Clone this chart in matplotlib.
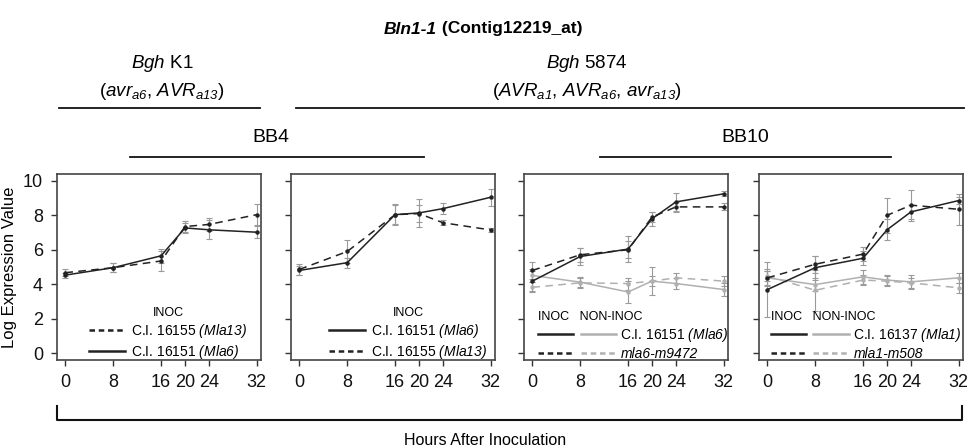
import matplotlib
matplotlib.use("Agg")
import matplotlib.pyplot as plt
from matplotlib.lines import Line2D
from matplotlib.legend_handler import HandlerTuple
from matplotlib.offsetbox import TextArea, HPacker, AnchoredOffsetbox

plt.rcParams['font.family'] = ['Liberation Sans', 'DejaVu Sans']
plt.rcParams['mathtext.fontset'] = 'custom'
plt.rcParams['mathtext.rm'] = 'Liberation Sans:italic'
plt.rcParams['mathtext.it'] = 'Liberation Sans:italic'
plt.rcParams['mathtext.bf'] = 'Liberation Sans:bold'

# ---------------- data ----------------
hours = [0, 8, 16, 20, 24, 32]
xtick_labels = ["0", "8", "16", "20", "24", "32"]
yticks = [0, 2, 4, 6, 8, 10]

# Panel 1 : BB4 / Bgh K1
p1_mla13 = [4.67, 4.96, 5.35, 7.35, 7.47, 8.04]
p1_mla13_err = [0.2, 0.25, 0.6, 0.3, 0.4, 0.6]
p1_mla6 = [4.53, 4.96, 5.65, 7.27, 7.16, 7.02]
p1_mla6_err = [0.15, 0.25, 0.4, 0.3, 0.55, 0.35]

# Panel 2 : BB4 / Bgh 5874
p2_mla6 = [4.80, 5.25, 8.04, 8.14, 8.39, 9.05]
p2_mla6_err = [0.25, 0.3, 0.55, 0.8, 0.3, 0.5]
p2_mla13 = [4.86, 5.90, 8.04, 8.10, 7.57, 7.15]
p2_mla13_err = [0.3, 0.65, 0.6, 0.5, 0.15, 0.1]

# Panel 3 : BB10 / Mla6 vs mla6-m9472
p3_inoc_wt = [4.18, 5.61, 6.04, 7.80, 8.78, 9.25]
p3_inoc_wt_err = [0.6, 0.5, 0.75, 0.4, 0.5, 0.15]
p3_inoc_mut = [4.80, 5.71, 6.00, 7.90, 8.49, 8.49]
p3_inoc_mut_err = [0.5, 0.4, 0.5, 0.3, 0.3, 0.2]
p3_non_wt = [4.51, 4.12, 3.55, 4.18, 4.04, 3.69]
p3_non_wt_err = [0.4, 0.3, 0.65, 0.8, 0.3, 0.4]
p3_non_mut = [3.82, 4.08, 4.04, 4.18, 4.37, 4.18]
p3_non_mut_err = [0.3, 0.3, 0.35, 0.3, 0.3, 0.3]

# Panel 4 : BB10 / Mla1 vs mla1-m508
p4_inoc_wt = [3.69, 4.96, 5.51, 7.16, 8.20, 8.86]
p4_inoc_wt_err = [1.6, 0.7, 0.4, 0.6, 0.4, 0.2]
p4_inoc_mut = [4.37, 5.16, 5.75, 8.00, 8.59, 8.35]
p4_inoc_mut_err = [0.5, 0.5, 0.4, 1.0, 0.9, 0.9]
p4_non_wt = [4.37, 3.98, 4.43, 4.24, 4.14, 4.37]
p4_non_wt_err = [0.4, 0.4, 0.4, 0.3, 0.4, 0.3]
p4_non_mut = [4.47, 3.65, 4.24, 4.18, 4.08, 3.79]
p4_non_mut_err = [0.3, 1.2, 0.3, 0.3, 0.3, 0.3]

# ---------------- figure ----------------
W, H = 967, 448
fig = plt.figure(figsize=(W / 100, H / 100), dpi=100)

def fx(px):
    return px / W

def fy(py):
    return 1 - py / H

BLACK = '#222222'
GRAY = '#b0b0b0'
ERR = '#9a9a9a'
DASH = (5, 3.5)

lefts = [57, 291, 524, 759]
ax_w = 204
ax_top, ax_bot = 174, 360
axes = []
for i, L in enumerate(lefts):
    ax = fig.add_axes([fx(L), fy(ax_bot), ax_w / W, (ax_bot - ax_top) / H])
    ax.set_xlim(-1.4, 32.7)
    ax.set_ylim(-0.4, 10.4)
    ax.set_xticks(hours)
    ax.set_xticklabels(xtick_labels)
    ax.set_yticks(yticks)
    if i > 0:
        ax.set_yticklabels([])
    ax.tick_params(direction='out', length=4, width=1, colors='#333333',
                   labelsize=13, labelcolor='#111111', pad=6)
    for s in ax.spines.values():
        s.set_color('#444444')
        s.set_linewidth(1.2)
    axes.append(ax)

axes[0].set_ylabel("Log Expression Value", fontsize=12, labelpad=4)

def series(ax, y, err, color, dashed, lw=1.1):
    ax.errorbar(hours, y, yerr=err, fmt='none', ecolor=ERR, elinewidth=0.8,
                capsize=2, capthick=0.8, zorder=2)
    ln, = ax.plot(hours, y, color=color, lw=lw, marker='o', ms=2.2,
                  zorder=3)
    if dashed:
        ln.set_dashes(DASH)
    return ln

leg_fs = 10
LEG_Y = -0.055

# Panel 1
ax = axes[0]
series(ax, p1_mla13, p1_mla13_err, BLACK, True)
series(ax, p1_mla6, p1_mla6_err, BLACK, False)
h1 = Line2D([], [], color=BLACK, lw=1.8, dashes=(2.2, 1.5))
h2 = Line2D([], [], color=BLACK, lw=1.8)
ax.legend([h1, h2], ["C.I. 16155 $(Mla13)$", "C.I. 16151 $(Mla6)$"],
          loc='lower left', bbox_to_anchor=(0.11, LEG_Y), frameon=False,
          fontsize=leg_fs, handlelength=2.6, handletextpad=0.4,
          labelspacing=0.2, borderpad=0.2, title="INOC",
          title_fontsize=9)

# Panel 2
ax = axes[1]
series(ax, p2_mla6, p2_mla6_err, BLACK, False)
series(ax, p2_mla13, p2_mla13_err, BLACK, True)
ax.legend([h2, h1], ["C.I. 16151 $(Mla6)$", "C.I. 16155 $(Mla13)$"],
          loc='lower left', bbox_to_anchor=(0.14, LEG_Y), frameon=False,
          fontsize=leg_fs, handlelength=2.6, handletextpad=0.4,
          labelspacing=0.2, borderpad=0.2, title="INOC",
          title_fontsize=9)

# Panels 3 and 4
def panel_pair(ax, iw, iwe, im, ime, nw, nwe, nm, nme, lab_wt, lab_mut, anchor_x):
    series(ax, nw, nwe, GRAY, False)
    series(ax, nm, nme, GRAY, True)
    series(ax, iw, iwe, BLACK, False)
    series(ax, im, ime, BLACK, True)
    hb = Line2D([], [], color=BLACK, lw=1.8)
    hg = Line2D([], [], color=GRAY, lw=1.8)
    hbd = Line2D([], [], color=BLACK, lw=1.8, dashes=(2.2, 1.5))
    hgd = Line2D([], [], color=GRAY, lw=1.8, dashes=(2.2, 1.5))
    lg = ax.legend([(hb, hg), (hbd, hgd)], [lab_wt, lab_mut],
                   handler_map={tuple: HandlerTuple(ndivide=None, pad=0.55)},
                   loc='lower left', bbox_to_anchor=(anchor_x, LEG_Y),
                   frameon=False, fontsize=leg_fs, handlelength=5.6,
                   handletextpad=0.35, labelspacing=0.2, borderpad=0.2,
                   title="INOC   NON-INOC", title_fontsize=9,
                   alignment='left')
    lg.get_texts()[1].set_fontstyle('italic')
    return lg

panel_pair(axes[2], p3_inoc_wt, p3_inoc_wt_err, p3_inoc_mut, p3_inoc_mut_err,
           p3_non_wt, p3_non_wt_err, p3_non_mut, p3_non_mut_err,
           "C.I. 16151 $(Mla6)$", "mla6-m9472", 0.02)
panel_pair(axes[3], p4_inoc_wt, p4_inoc_wt_err, p4_inoc_mut, p4_inoc_mut_err,
           p4_non_wt, p4_non_wt_err, p4_non_mut, p4_non_mut_err,
           "C.I. 16137 $(Mla1)$", "mla1-m508", 0.01)

# ---------------- header annotations ----------------
title_box = HPacker(children=[
    TextArea("Bln1-1", textprops=dict(fontsize=12.5, weight='bold', style='italic')),
    TextArea(" (Contig12219_at)", textprops=dict(fontsize=12.5, weight='bold')),
], align='baseline', pad=0, sep=0)
anc = AnchoredOffsetbox(loc='center', child=title_box, frameon=False,
                        bbox_to_anchor=(fx(483), fy(29)),
                        bbox_transform=fig.transFigure, pad=0, borderpad=0)
fig.add_artist(anc)

fig.text(fx(162), fy(63), "$Bgh$ K1", ha='center', va='center', fontsize=13.5)
fig.text(fx(162), fy(91), "($avr_{a6}$, $AVR_{a13}$)",
         ha='center', va='center', fontsize=13.5)
fig.text(fx(587), fy(63), "$Bgh$ 5874", ha='center', va='center', fontsize=13.5)
fig.text(fx(587), fy(91), "($AVR_{a1}$, $AVR_{a6}$, $avr_{a13}$)",
         ha='center', va='center', fontsize=13.5)
fig.text(fx(271), fy(138), "BB4", ha='center', va='center', fontsize=14)
fig.text(fx(745), fy(138), "BB10", ha='center', va='center', fontsize=14)

def hline(x0, x1, y):
    fig.add_artist(Line2D([fx(x0), fx(x1)], [fy(y), fy(y)], color='#111111',
                          lw=1.3, transform=fig.transFigure))

hline(59, 260, 108)
hline(296, 964, 108)
hline(130, 424, 157)
hline(600, 891, 157)

# bottom bracket
fig.add_artist(Line2D([fx(57), fx(57), fx(962), fx(962)],
                      [fy(406), fy(420), fy(420), fy(406)], color='#111111',
                      lw=1.5, transform=fig.transFigure))
fig.text(fx(485), fy(440), "Hours After Inoculation", ha='center', va='center',
         fontsize=11.5)

fig.savefig("out.png", dpi=100)
